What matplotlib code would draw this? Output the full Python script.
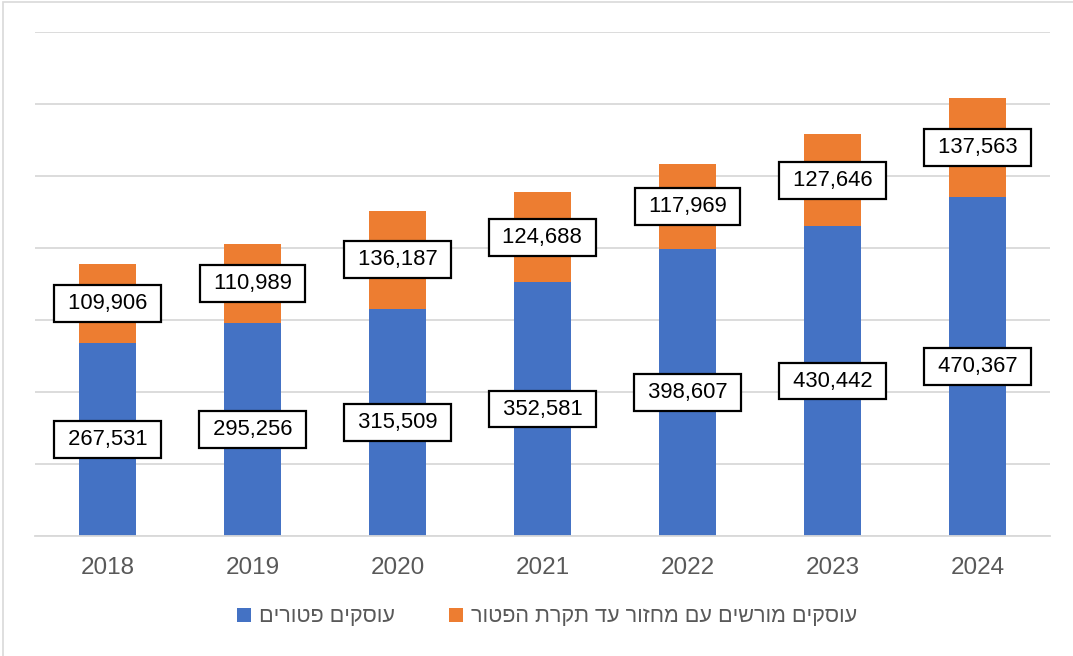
import numpy as np
import matplotlib.pyplot as plt
from matplotlib.patches import Rectangle

years = ['2018', '2019', '2020', '2021', '2022', '2023', '2024']
exempt = [267531, 295256, 315509, 352581, 398607, 430442, 470367]
licensed_small = [109906, 110989, 136187, 124688, 117969, 127646, 137563]
label_exempt = 'עוסקים פטורים'
label_licensed = 'עוסקים מורשים עם מחזור עד תקרת הפטור'

plt.rcParams['font.family'] = ['Liberation Sans', 'DejaVu Sans']

fig = plt.figure(figsize=(10.73, 6.56), dpi=100)
ax = fig.add_axes([35 / 1073, 1 - 536 / 656, 1015 / 1073, 504 / 656])

x = np.arange(len(years))
b1 = ax.bar(x, exempt, width=0.39, color='#4472C4', label=label_exempt[::-1], zorder=2)
b2 = ax.bar(x, licensed_small, width=0.39, bottom=exempt, color='#ED7D31',
            label=label_licensed[::-1], zorder=2)

# תוויות ערכים במרכז כל מקטע
for i in range(len(years)):
    for val, base in [(exempt[i], 0), (licensed_small[i], exempt[i])]:
        ax.text(x[i], base + val / 2, ' {:,} '.format(val), ha='center', va='center',
                fontsize=15.8, color='black', zorder=4,
                bbox=dict(boxstyle='square,pad=0.36', fc='white', ec='black', lw=1.6))

ax.set_xlim(-0.5, 6.5)
ax.set_ylim(0, 700000)
ax.set_yticks(np.arange(0, 700001, 100000))
ax.yaxis.grid(True, color='#d9d9d9', lw=1.3, zorder=0)
ax.set_yticklabels([])
ax.tick_params(axis='y', length=0)
ax.set_xticks(x)
ax.set_xticklabels(years, fontsize=17.5, color='#595959')
ax.tick_params(axis='x', length=0, pad=15)
for s in ['top', 'right', 'left']:
    ax.spines[s].set_visible(False)
ax.spines['bottom'].set_color('#d9d9d9')
ax.spines['bottom'].set_linewidth(1.3)

leg = fig.legend(handles=[b1, b2], loc='center', bbox_to_anchor=(547 / 1073, 1 - 617 / 656),
                 ncol=2, frameon=False, fontsize=15.6, handlelength=0.65, handleheight=0.65,
                 handletextpad=0.35, columnspacing=2.5)
for t in leg.get_texts():
    t.set_color('#595959')

fig.patches.append(Rectangle((3 / 1073, -0.05), 1.2, 1 - 2 / 656 + 0.05, transform=fig.transFigure,
                             fill=False, ec='#d9d9d9', lw=1.2))

fig.savefig('out.png', dpi=100)
